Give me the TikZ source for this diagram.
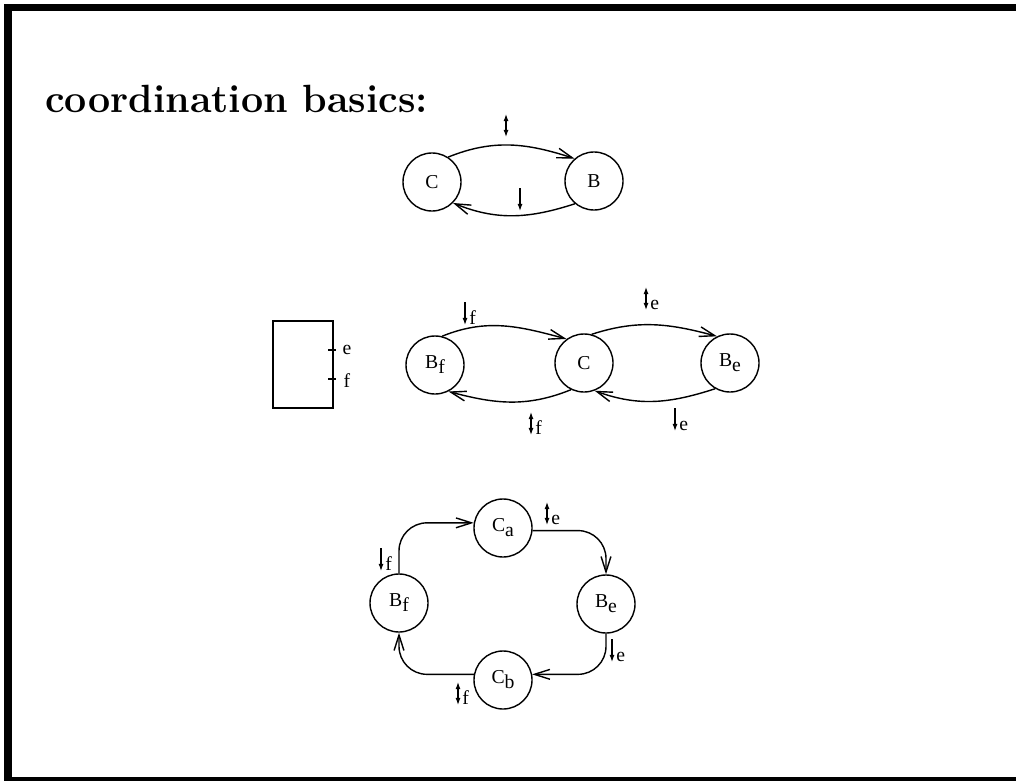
\documentclass[tikz,border=0pt]{standalone}
\usepackage{fontspec}
\newfontfamily\timesfont{Liberation Serif}
\usepackage{tikz}
\usetikzlibrary{arrows.meta,positioning}
\newcommand{\lowsub}[1]{\raisebox{-3.5pt}{#1}}
\tikzset{
  stcirc/.style={circle, draw=black, line width=1pt, minimum size=1.45cm, inner sep=0pt, font=\timesfont\fontsize{14}{16}\selectfont},
  flow/.style={line width=1pt, -{Straight Barb[length=11pt,width=7pt]}},
  portlbl/.style={font=\timesfont\fontsize{14}{16}\selectfont, inner sep=0pt},
  comp/.style={rectangle, draw=black, line width=1pt, minimum width=1.5cm, minimum height=2.175cm, inner sep=0pt},
  sigdn/.pic={\draw[line width=0.8pt,-{Latex[length=5pt,width=3.5pt]}] (0,0) -- (0,-23);
    \node[portlbl,anchor=base west] at (4,-22) {#1};},
  sigud/.pic={\draw[line width=0.8pt,{Latex[length=5pt,width=3.5pt]}-{Latex[length=5pt,width=3.5pt]}] (0,0) -- (0,-23);
    \node[portlbl,anchor=base west] at (4,-22) {#1};},
}
\begin{document}
\begin{tikzpicture}[x=0.025cm,y=0.025cm]
  \useasboundingbox (0,0) rectangle (1016,-781);
  % frame
  \fill (4,-4) rectangle (12,-781);
  \fill (4,-4) rectangle (1016,-11);
  \fill (4,-777) rectangle (1016,-781);
  \node[anchor=base west, inner sep=0pt, font=\fontsize{28}{32}\selectfont\bfseries] (title) at (45,-113) {coordination basics:};

  % basic pair
  \node[stcirc] (c1) at (432,-182) {C};
  \node[stcirc] (b1) at (594,-181) {B};
  \draw[flow] (c1.57) to[out=22,in=162] (b1.131);
  \draw[flow] (b1.230) to[out=198,in=-22] (c1.-45);
  \pic at (506,-114) {sigud=};
  \pic at (520,-188) {sigdn=};

  % component with two ports
  \node[comp] (box) at (303,-364.5) {};
  \draw[line width=1pt] (328,-350) -- (336,-350) (328,-379) -- (336,-379);
  \node[portlbl] (pe) at (347,-350) {e};
  \node[portlbl] (pf) at (347,-381) {f};

  % two buffers around one coordinator
  \node[stcirc] (bf1) at (435,-365) {B\lowsub{f}};
  \node[stcirc] (c2) at (584,-363) {C};
  \node[stcirc] (be1) at (730,-363) {B\lowsub{e}};
  \draw[flow] (bf1.76) to[out=22,in=165] (c2.126);
  \draw[flow] (c2.244) to[out=202,in=-15] (bf1.-63);
  \draw[flow] (c2.75) to[out=18,in=165] (be1.116);
  \draw[flow] (be1.240) to[out=198,in=-20] (c2.-69);
  \pic at (465,-302) {sigdn=f};
  \pic at (531,-412) {sigud=f};
  \pic at (646,-287) {sigud=e};
  \pic at (675,-408) {sigdn=e};

  % ring
  \node[stcirc] (ca) at (503,-528) {C\lowsub{a}};
  \node[stcirc] (be2) at (606,-604) {B\lowsub{e}};
  \node[stcirc] (cb) at (503,-680) {C\lowsub{b}};
  \node[stcirc] (bf2) at (399,-603) {B\lowsub{f}};
  \begin{scope}[rounded corners=0.7cm]
    \draw[flow] (bf2.north) |- (ca.170);
    \draw[flow] (ca.-5) -| (be2.north);
    \draw[flow] (be2.south) |- (cb.11);
    \draw[flow] (cb.169) -| (bf2.south);
  \end{scope}
  \pic at (547,-502) {sigud=e};
  \pic at (381,-548) {sigdn=f};
  \pic at (612,-639) {sigdn=e};
  \pic at (458,-682) {sigud=f};
\end{tikzpicture}
\end{document}
